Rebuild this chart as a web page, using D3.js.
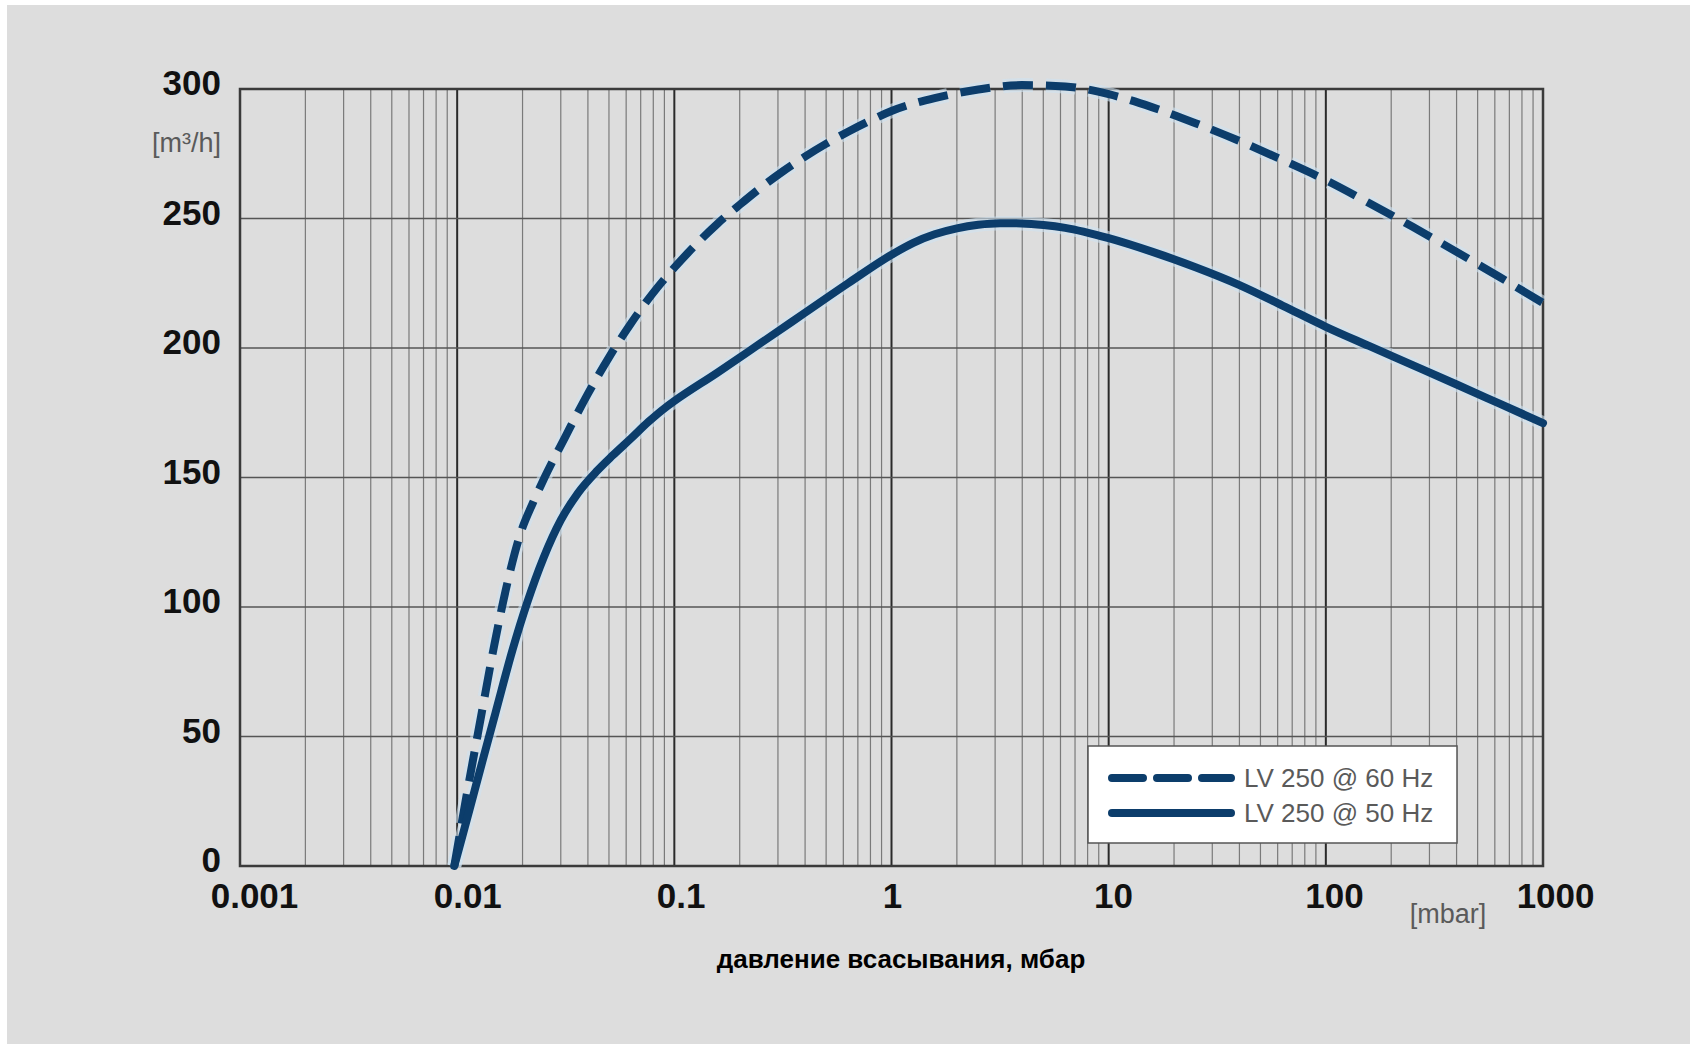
<!DOCTYPE html>
<html>
<head>
<meta charset="utf-8">
<script src="https://cdn.jsdelivr.net/npm/d3@7/dist/d3.min.js"></script>
<style>
  html, body { margin: 0; padding: 0; background: #ffffff; }
  svg { display: block; }
</style>
</head>
<body>
<div id="chart"></div>
<script>
// x axis: suction pressure (mbar), log scale
var xTickValues = [0.001, 0.01, 0.1, 1, 10, 100, 1000];
var xTickLabels = ["0.001", "0.01", "0.1", "1", "10", "100", "1000"];
// y axis: pumping speed (m3/h)
var yTickValues = [0, 50, 100, 150, 200, 250, 300];

// LV 250 @ 60 Hz (dashed)
var pressure60 = [0.0097, 0.0112, 0.0129, 0.0148, 0.017, 0.0195, 0.0224, 0.0251, 0.0316, 0.0398, 0.0501, 0.0631, 0.0794, 0.1, 0.126, 0.158, 0.2, 0.251, 0.316, 0.398, 0.501, 0.631, 0.794, 1, 1.58, 2.51, 3.98, 6.31, 10, 15.8, 25.1, 39.8, 63.1, 100, 158, 251, 398, 631, 1000];
var flow60     = [0,      30,     58,     85,     109,   128,    140.5,  149.5,  166,    182,    196.5,  209.5,  221,    231, 240,   248,   255.3, 262,  268.2, 273.8, 278.9, 283.5, 287.7, 291.5, 296.5, 299.8, 301.5, 301, 298, 293, 286.8, 280, 272.6, 264.8, 256, 246.8, 237.2, 227.4, 217.4];

// LV 250 @ 50 Hz (solid)
var pressure50 = [0.0097, 0.0105, 0.012, 0.013, 0.015, 0.018, 0.021, 0.025, 0.03, 0.036, 0.044, 0.052, 0.063, 0.076, 0.091, 0.1, 0.158, 0.251, 0.398, 0.631, 1, 1.26, 1.58, 2.0, 2.51, 3.16, 3.98, 5.01, 6.31, 10, 15.8, 25.1, 39.8, 63.1, 100, 158, 251, 398, 631, 1000];
var flow50     = [0,      10.6,   28.8,  39.7,  59,    83.5,  101.6, 119,   133.5, 144,   152.5, 158.5, 165,   171.5, 177,   179.5, 190.5, 202, 213.5, 225, 236, 240.6, 243.9, 246.2, 247.6, 248.2, 248.1, 247.5, 246.4, 242.4, 237.2, 231.2, 224.4, 216.4, 208.2, 200.8, 193.4, 186, 178.5, 171];

var seriesNames = ["LV 250 @ 60 Hz", "LV 250 @ 50 Hz"];

var width = 1694, height = 1044;
var lineColor = "#0c3d6b";
var font = "Liberation Sans, Arial, sans-serif";

var svg = d3.select("#chart").append("svg")
    .attr("width", width)
    .attr("height", height);

// background, with the thin white strip the scan has on top/left
svg.append("rect").attr("width", width).attr("height", height).attr("fill", "#ffffff");
svg.append("rect").attr("x", 7).attr("y", 5).attr("width", width - 11).attr("height", height - 5).attr("fill", "#dddddd");

var x = d3.scaleLog().domain([0.001, 1000]).range([240, 1543]);
var y = d3.scaleLinear().domain([0, 300]).range([866, 89]);

// vertical grid: 1..9 per decade
var gridX = [];
for (var d = -3; d < 3; d++) {
    for (var k = 1; k <= 9; k++) {
        gridX.push({v: k * Math.pow(10, d), major: k == 1});
    }
}

var grid = svg.append("g");
grid.selectAll("line.vx")
    .data(gridX)
    .enter().append("line")
    .attr("x1", function (d) { return x(d.v); })
    .attr("x2", function (d) { return x(d.v); })
    .attr("y1", y(0))
    .attr("y2", y(300))
    .attr("stroke", function (d) { return d.major ? "#2a2a2a" : "#7a7a7a"; })
    .attr("stroke-width", function (d) { return d.major ? 2 : 1.2; });

grid.selectAll("line.hy")
    .data(yTickValues)
    .enter().append("line")
    .attr("x1", x(0.001))
    .attr("x2", x(1000))
    .attr("y1", function (d) { return y(d); })
    .attr("y2", function (d) { return y(d); })
    .attr("stroke", "#555555")
    .attr("stroke-width", 1.5);

// frame
svg.append("rect")
    .attr("x", x(0.001))
    .attr("y", y(300))
    .attr("width", x(1000) - x(0.001))
    .attr("height", y(0) - y(300))
    .attr("fill", "none")
    .attr("stroke", "#3a3a3a")
    .attr("stroke-width", 2.5);

// curves
var line = d3.line()
    .x(function (d) { return x(d[0]); })
    .y(function (d) { return y(d[1]); })
    .curve(d3.curveMonotoneX);

var data60 = pressure60.map(function (p, i) { return [p, flow60[i]]; });
var data50 = pressure50.map(function (p, i) { return [p, flow50[i]]; });

var curves = svg.append("g");
// soft halo under the lines
curves.append("path").attr("d", line(data60)).attr("fill", "none")
    .attr("stroke", "#cfe2f2").attr("stroke-width", 14).attr("stroke-opacity", 0.6)
    .attr("stroke-dasharray", "30,13");
curves.append("path").attr("d", line(data50)).attr("fill", "none")
    .attr("stroke", "#cfe2f2").attr("stroke-width", 14).attr("stroke-opacity", 0.6);

curves.append("path").attr("d", line(data60)).attr("fill", "none")
    .attr("stroke", lineColor).attr("stroke-width", 8)
    .attr("stroke-dasharray", "30,13");
curves.append("path").attr("d", line(data50)).attr("fill", "none")
    .attr("stroke", lineColor).attr("stroke-width", 8)
    .attr("stroke-linecap", "round");

// y tick labels
svg.append("g").selectAll("text")
    .data(yTickValues)
    .enter().append("text")
    .attr("x", 221)
    .attr("y", function (d) { return y(d) + 6; })
    .attr("text-anchor", "end")
    .attr("font-family", font)
    .attr("font-weight", "bold")
    .attr("font-size", 35)
    .attr("fill", "#111111")
    .text(function (d) { return d; });

// x tick labels (nudged right a bit, more for wider labels, as in the original)
svg.append("g").selectAll("text")
    .data(xTickValues)
    .enter().append("text")
    .attr("y", 908)
    .attr("text-anchor", "middle")
    .attr("font-family", font)
    .attr("font-weight", "bold")
    .attr("font-size", 35)
    .attr("fill", "#111111")
    .text(function (d, i) { return xTickLabels[i]; })
    .attr("x", function (d) {
        var w = this.getComputedTextLength();
        return x(d) + 0.2 * w - 3;
    });

// units
svg.append("text")
    .attr("x", 221).attr("y", 152)
    .attr("text-anchor", "end")
    .attr("font-family", font)
    .attr("font-size", 27)
    .attr("fill", "#5a5a5a")
    .text("[m³/h]");

svg.append("text")
    .attr("x", 1448).attr("y", 923)
    .attr("text-anchor", "middle")
    .attr("font-family", font)
    .attr("font-size", 27)
    .attr("fill", "#5a5a5a")
    .text("[mbar]");

// axis title
svg.append("text")
    .attr("x", 901).attr("y", 968)
    .attr("text-anchor", "middle")
    .attr("font-family", font)
    .attr("font-weight", "bold")
    .attr("font-size", 26)
    .attr("fill", "#000000")
    .text("давление всасывания, мбар");

// legend
var legend = svg.append("g").attr("transform", "translate(1088,746)");
legend.append("rect")
    .attr("width", 369).attr("height", 97)
    .attr("fill", "#ffffff")
    .attr("stroke", "#555555")
    .attr("stroke-width", 1.5);

var legendRows = legend.selectAll("g.row")
    .data(seriesNames)
    .enter().append("g")
    .attr("transform", function (d, i) { return "translate(0," + (32 + i * 35) + ")"; });

legendRows.append("line")
    .attr("x1", 24).attr("x2", 143)
    .attr("stroke", lineColor)
    .attr("stroke-width", 8)
    .attr("stroke-linecap", "round")
    .attr("stroke-dasharray", function (d, i) { return i == 0 ? "31,14" : null; });

legendRows.append("text")
    .attr("x", 156).attr("y", 9)
    .attr("font-family", font)
    .attr("font-size", 26)
    .attr("fill", "#5a5a5a")
    .text(function (d) { return d; });
</script>
</body>
</html>
